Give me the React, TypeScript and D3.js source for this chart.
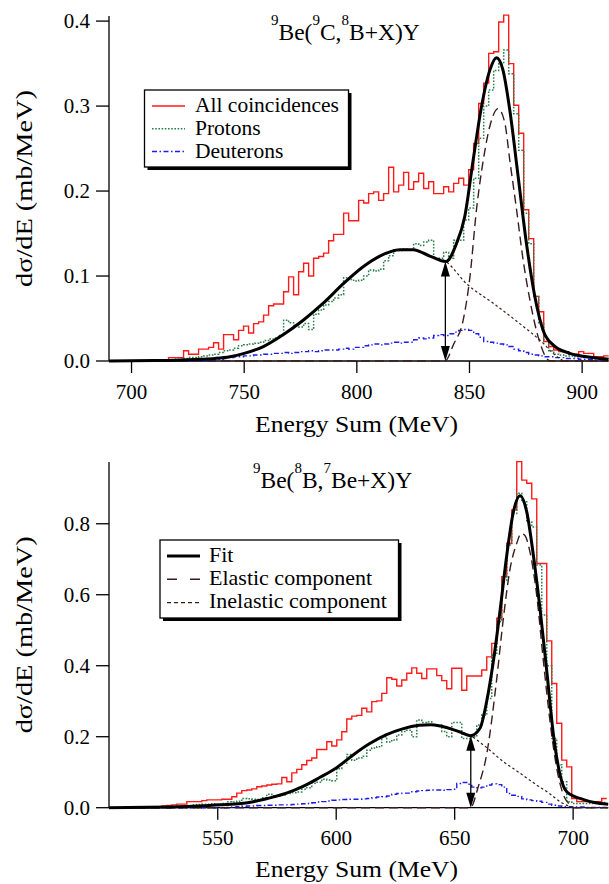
import React from 'react';
import * as d3 from 'd3';

// ---------- Top panel: 9Be(9C,8B+X)Y ----------
const topBinStart = 712;
const topBinWidth = 2.22;
const topAll = [
  0.001, 0.001, 0.004, 0.004, 0.004, 0.012, 0.008, 0.008, 0.014, 0.014,
  0.016, 0.0215, 0.014, 0.031, 0.031, 0.025, 0.036, 0.041, 0.033, 0.044,
  0.046, 0.054, 0.065, 0.067, 0.067, 0.0815, 0.099, 0.078, 0.105, 0.115,
  0.1, 0.121, 0.123, 0.127, 0.1415, 0.149, 0.149, 0.174, 0.165, 0.165,
  0.189, 0.186, 0.197, 0.199, 0.189, 0.197, 0.228, 0.199, 0.207, 0.222,
  0.202, 0.211, 0.221, 0.203, 0.211, 0.197, 0.197, 0.205, 0.199, 0.209,
  0.215, 0.207, 0.225, 0.256, 0.303, 0.327, 0.362, 0.364, 0.399, 0.407,
  0.35, 0.301, 0.268, 0.178, 0.144, 0.076, 0.058, 0.023, 0.017, 0.013,
  0.011, 0.011, 0.008, 0.008, 0.011, 0.009, 0.009, 0.005, 0.005, 0.006,
];
const topProtons = [
  0, 0.001, 0.001, 0.002, 0.002, 0.003, 0.004, 0.004, 0.005, 0.006,
  0.007, 0.008, 0.01, 0.012, 0.013, 0.015, 0.018, 0.019, 0.02, 0.021,
  0.022, 0.024, 0.026, 0.027, 0.03, 0.048, 0.045, 0.042, 0.04, 0.044,
  0.037, 0.055, 0.06, 0.066, 0.07, 0.074, 0.078, 0.098, 0.096, 0.094,
  0.095, 0.1, 0.107, 0.106, 0.108, 0.118, 0.124, 0.131, 0.13, 0.132,
  0.131, 0.138, 0.136, 0.14, 0.142, 0.121, 0.121, 0.128, 0.121, 0.142,
  0.142, 0.166, 0.18, 0.215, 0.262, 0.3, 0.319, 0.342, 0.35, 0.366,
  0.338, 0.291, 0.248, 0.174, 0.138, 0.076, 0.045, 0.025, 0.012, 0.008,
  0.007, 0.006, 0.006, 0.005, 0.005, 0.004, 0.004, 0.004, 0.003, 0.003,
];
const topDeuterons = [
  0, 0, 0, 0, 0, 0, 0, 0, 0, 0,
  0, 0.001, 0.002, 0.003, 0.004, 0.005, 0.005, 0.006, 0.006, 0.007,
  0.007, 0.008, 0.008, 0.009, 0.009, 0.01, 0.009, 0.01, 0.011, 0.011,
  0.012, 0.011, 0.012, 0.013, 0.013, 0.013, 0.014, 0.015, 0.014, 0.016,
  0.016, 0.018, 0.019, 0.02, 0.019, 0.02, 0.021, 0.022, 0.021, 0.022,
  0.022, 0.025, 0.027, 0.026, 0.027, 0.03, 0.031, 0.03, 0.032, 0.034,
  0.036, 0.037, 0.036, 0.032, 0.028, 0.023, 0.022, 0.021, 0.02, 0.019,
  0.017, 0.014, 0.012, 0.01, 0.008, 0.007, 0.006, 0.005, 0.005, 0.004,
  0.004, 0.003, 0.003, 0.003, 0.002, 0.002, 0.002, 0.001, 0.001, 0.001,
];
const topFitE = [690, 710, 720, 730, 737, 743.7, 750, 758.5, 767.3, 776.2, 785.1, 794, 802.8, 810.2, 819.1, 825, 832.4, 839.5, 844.2, 847.9, 851.6, 855.3, 859, 862, 864.9, 867.9, 871.6, 875.3, 879, 882.7, 887.1, 894.5, 902, 911.7];
const topFitV = [0, 0.0005, 0.001, 0.002, 0.003, 0.005, 0.009, 0.017, 0.031, 0.048, 0.068, 0.091, 0.111, 0.1235, 0.131, 0.131, 0.1235, 0.117, 0.138, 0.17, 0.236, 0.299, 0.342, 0.357, 0.342, 0.295, 0.217, 0.138, 0.076, 0.036, 0.019, 0.009, 0.005, 0.002];
const topInelE = [690, 710, 720, 730, 737, 743.7, 750, 758.5, 767.3, 776.2, 785.1, 794, 802.8, 810.2, 819.1, 825, 832.4, 839.5, 848.7, 860.5, 872.3, 882.7, 887.1, 890, 892, 911.7];
const topInelV = [0, 0.0005, 0.001, 0.002, 0.003, 0.005, 0.009, 0.017, 0.031, 0.048, 0.068, 0.091, 0.111, 0.1235, 0.131, 0.131, 0.1235, 0.117, 0.091, 0.068, 0.044, 0.021, 0.009, 0.003, 0, 0];
const topElE = [690, 839.1, 843, 847.2, 850.2, 853.1, 856.1, 859, 862.7, 865.7, 867.9, 870.9, 873.8, 876.8, 879.7, 882.7, 884.2, 886, 911.7];
const topElV = [0, 0, 0.02, 0.048, 0.099, 0.178, 0.236, 0.276, 0.297, 0.28, 0.236, 0.178, 0.119, 0.072, 0.036, 0.011, 0.003, 0, 0];
const topArrow = [839.3, 0.117];
const topXTicks = [700, 750, 800, 850, 900];
const topYTicks = [0, 0.1, 0.2, 0.3, 0.4];
const topTitle = [['9', 'Be('], ['9', 'C,'], ['8', 'B+X)Y']];
const topLegend = ['All coincidences', 'Protons', 'Deuterons'];

// ---------- Bottom panel: 9Be(8B,7Be+X)Y ----------
const botBinStart = 524.28;
const botBinWidth = 2.11;
const botAll = [
  0.003, 0.005, 0.006, 0.008, 0.01, 0.01, 0.017, 0.017, 0.017, 0.02,
  0.022, 0.022, 0.022, 0.024, 0.024, 0.031, 0.041, 0.048, 0.05, 0.053,
  0.059, 0.061, 0.064, 0.066, 0.067, 0.085, 0.073, 0.098, 0.108, 0.121,
  0.133, 0.14, 0.164, 0.164, 0.186, 0.174, 0.191, 0.214, 0.25, 0.258,
  0.26, 0.28, 0.27, 0.299, 0.301, 0.322, 0.366, 0.362, 0.343, 0.36,
  0.379, 0.394, 0.379, 0.364, 0.391, 0.391, 0.372, 0.358, 0.335, 0.393,
  0.393, 0.331, 0.371, 0.371, 0.371, 0.388, 0.425, 0.463, 0.534, 0.651,
  0.745, 0.839, 0.975, 0.923, 0.914, 0.87, 0.688, 0.688, 0.47, 0.35,
  0.238, 0.134, 0.115, 0.026, 0.017, 0.017, 0.017, 0.017, 0.017, 0.026,
];
const botProtons = [
  0.001, 0.002, 0.002, 0.003, 0.004, 0.005, 0.006, 0.008, 0.009, 0.01,
  0.01, 0.011, 0.01, 0.012, 0.017, 0.016, 0.018, 0.026, 0.025, 0.024,
  0.023, 0.028, 0.038, 0.034, 0.033, 0.036, 0.04, 0.042, 0.044, 0.052,
  0.056, 0.069, 0.072, 0.08, 0.078, 0.076, 0.11, 0.125, 0.15, 0.134,
  0.14, 0.145, 0.162, 0.168, 0.172, 0.2, 0.185, 0.191, 0.205, 0.215,
  0.218, 0.2, 0.247, 0.24, 0.242, 0.233, 0.233, 0.215, 0.2, 0.24,
  0.24, 0.195, 0.195, 0.2, 0.233, 0.261, 0.308, 0.43, 0.524, 0.64,
  0.74, 0.829, 0.886, 0.862, 0.806, 0.791, 0.684, 0.543, 0.4, 0.195,
  0.121, 0.073, 0.017, 0.012, 0.012, 0.012, 0.012, 0.012, 0.012, 0.015,
];
const botDeuterons = [
  0, 0, 0, 0, 0, 0, 0, 0, 0, 0,
  0, 0, 0, 0, 0.001, 0.002, 0.003, 0.004, 0.005, 0.005,
  0.006, 0.006, 0.007, 0.007, 0.008, 0.008, 0.008, 0.009, 0.01, 0.011,
  0.012, 0.014, 0.016, 0.017, 0.019, 0.021, 0.022, 0.023, 0.024, 0.024,
  0.024, 0.025, 0.026, 0.028, 0.03, 0.031, 0.033, 0.038, 0.04, 0.041,
  0.041, 0.045, 0.047, 0.048, 0.049, 0.05, 0.05, 0.049, 0.051, 0.052,
  0.068, 0.071, 0.066, 0.058, 0.056, 0.058, 0.064, 0.067, 0.065, 0.058,
  0.04, 0.035, 0.032, 0.025, 0.022, 0.02, 0.018, 0.015, 0.01, 0.007,
  0.005, 0.003, 0.003, 0.002, 0.002, 0.002, 0.001, 0.001, 0.001, 0.001,
];
const botFitE = [504.1, 520, 530, 540, 551, 560, 565, 571, 579, 586, 593, 600, 607, 614, 621, 628, 635, 640, 644, 652, 656.6, 660.7, 663.5, 666.3, 669.1, 672, 674.8, 677.6, 680.4, 683.2, 686, 688.9, 691.7, 694.5, 697.3, 702.9, 711.4, 714.8];
const botFitV = [0, 0.001, 0.002, 0.004, 0.008, 0.012, 0.017, 0.026, 0.041, 0.06, 0.085, 0.112, 0.148, 0.18, 0.205, 0.222, 0.232, 0.234, 0.23, 0.214, 0.203, 0.224, 0.299, 0.411, 0.552, 0.712, 0.834, 0.879, 0.834, 0.712, 0.562, 0.383, 0.205, 0.092, 0.045, 0.026, 0.012, 0.01];
const botInelE = [504.1, 520, 530, 540, 551, 560, 565, 571, 579, 586, 593, 600, 607, 614, 621, 628, 635, 640, 644, 652, 656.6, 663, 670.5, 677, 684.6, 690, 694.5, 698, 700.5, 714.8];
const botInelV = [0, 0.001, 0.002, 0.004, 0.008, 0.012, 0.017, 0.026, 0.041, 0.06, 0.085, 0.112, 0.148, 0.18, 0.205, 0.222, 0.232, 0.234, 0.23, 0.214, 0.203, 0.172, 0.13, 0.1, 0.064, 0.04, 0.017, 0.005, 0, 0];
const botElE = [504.1, 656.6, 660, 663.5, 667.7, 670.5, 673.3, 676.2, 678, 679.5, 681.8, 684.6, 687.5, 690.3, 693.1, 695.9, 698.7, 700.5, 714.8];
const botElV = [0, 0, 0.06, 0.15, 0.36, 0.53, 0.67, 0.745, 0.772, 0.768, 0.72, 0.6, 0.41, 0.24, 0.11, 0.036, 0.008, 0, 0];
const botArrow = [656.8, 0.203];
const botXTicks = [550, 600, 650, 700];
const botYTicks = [0, 0.2, 0.4, 0.6, 0.8];
const botTitle = [['9', 'Be('], ['8', 'B,'], ['7', 'Be+X)Y']];
const botLegend = ['Fit', 'Elastic component', 'Inelastic component'];

const FONT = "'Liberation Serif', 'DejaVu Serif', serif";
const RED = '#ff1a1a';
const GREEN = '#2a7f4a';
const BLUE = '#1c1cf0';
const BROWN = '#3a1c1c';
const DASH_DOT = '5 2.5 1.5 2.5';
const DOTS = '1.6 1.6';
const EL_DASH = '9 5';
const INEL_DASH = '2.5 2.5';
const TXT = { fontFamily: FONT };

type Cfg = {
  x: d3.ScaleLinear<number, number>;
  y: d3.ScaleLinear<number, number>;
  binStart: number; binWidth: number;
  all: number[]; protons: number[]; deuterons: number[];
  fitE: number[]; fitV: number[]; inelE: number[]; inelV: number[]; elE: number[]; elV: number[];
  arrow: number[]; xTicks: number[]; yTicks: number[];
  title: string[][]; titleX: number; titleY: number;
  xLabelY: number; tickLabelY: number;
};

function histPath(vals: number[], start: number, w: number, x: any, y: any) {
  const pts: [number, number][] = [[x.domain()[0], 0], [start, 0]];
  vals.forEach((v, i) => pts.push([start + i * w, v]));
  pts.push([start + vals.length * w, vals[vals.length - 1]]);
  return d3.line<[number, number]>().x(d => x(d[0])).y(d => y(d[1])).curve(d3.curveStepAfter)(pts) || '';
}

function curvePath(E: number[], V: number[], x: any, y: any) {
  return d3.line<number>().x((_, i) => x(E[i])).y((_, i) => y(V[i])).curve(d3.curveMonotoneX)(E) || '';
}

function Panel({ c }: { c: Cfg }) {
  const { x, y } = c;
  const x0 = x.range()[0], x1 = x.range()[1];
  const y0 = y.range()[0], y1 = y.range()[1];
  const ax = x(c.arrow[0]);
  const ayTop = y(c.arrow[1]);
  const ayBot = y(0);
  const hw = 4.5, hh = 15;
  const clipId = 'clip' + Math.round(y0);
  return (
    <g>
      <defs>
        <clipPath id={clipId}>
          <rect x={x0} y={y1 - 30} width={x1 - x0 + 2} height={y0 - y1 + 32} />
        </clipPath>
      </defs>
      <line x1={x0} x2={x0} y1={y1} y2={y0} stroke="#000" strokeWidth={1.3} />
      <line x1={x0} x2={x1} y1={y0} y2={y0} stroke="#000" strokeWidth={1.3} />
      {c.yTicks.map(t => (
        <g key={'y' + t}>
          <line x1={x0 - 13} x2={x0} y1={y(t)} y2={y(t)} stroke="#000" strokeWidth={1.3} />
          <text x={x0 - 19} y={y(t)} dy="0.33em" textAnchor="end" fontSize={21} style={TXT}>{d3.format('.1f')(t)}</text>
        </g>
      ))}
      {c.xTicks.map(t => (
        <g key={'x' + t}>
          <line x1={x(t)} x2={x(t)} y1={y0} y2={y0 + 12} stroke="#000" strokeWidth={1.3} />
          <text x={x(t)} y={c.tickLabelY} textAnchor="middle" fontSize={21} style={TXT}>{t}</text>
        </g>
      ))}
      <text x={356.6} y={c.xLabelY} textAnchor="middle" fontSize={24} style={TXT} textLength={203} lengthAdjust="spacingAndGlyphs">Energy Sum (MeV)</text>
      <text transform={`translate(32, ${(y0 + y1) / 2}) rotate(-90)`} textAnchor="middle" fontSize={24} style={TXT} textLength={197} lengthAdjust="spacingAndGlyphs">dσ/dE (mb/MeV)</text>
      <text x={c.titleX} y={c.titleY} fontSize={23.5} style={TXT}>
        {c.title.map((p, i) => (
          <React.Fragment key={i}>
            <tspan fontSize={15} dy={-15}>{p[0]}</tspan>
            <tspan dy={15}>{p[1]}</tspan>
          </React.Fragment>
        ))}
      </text>
      <g clipPath={`url(#${clipId})`} fill="none">
        <path d={histPath(c.all, c.binStart, c.binWidth, x, y)} stroke={RED} strokeWidth={1.4} />
        <path d={histPath(c.protons, c.binStart, c.binWidth, x, y)} stroke={GREEN} strokeWidth={1.5} strokeDasharray={DOTS} />
        <path d={histPath(c.deuterons, c.binStart, c.binWidth, x, y)} stroke={BLUE} strokeWidth={1.4} strokeDasharray={DASH_DOT} />
        <path d={curvePath(c.inelE, c.inelV, x, y)} stroke={BROWN} strokeWidth={1.2} strokeDasharray={INEL_DASH} />
        <path d={curvePath(c.elE, c.elV, x, y)} stroke={BROWN} strokeWidth={1.4} strokeDasharray={EL_DASH} />
        <path d={curvePath(c.fitE, c.fitV, x, y)} stroke="#000" strokeWidth={3} />
      </g>
      <line x1={ax} x2={ax} y1={ayTop + 4} y2={ayBot - 4} stroke="#000" strokeWidth={1.3} />
      <path d={`M${ax},${ayTop} L${ax - hw},${ayTop + hh} L${ax + hw},${ayTop + hh} Z`} fill="#000" />
      <path d={`M${ax},${ayBot} L${ax - hw},${ayBot - hh} L${ax + hw},${ayBot - hh} Z`} fill="#000" />
    </g>
  );
}

function LegendBox({ x, y, w, h, children }: any) {
  return (
    <g>
      <rect x={x + 3} y={y + 3} width={w} height={h} fill="#000" />
      <rect x={x} y={y} width={w} height={h} fill="#fff" stroke="#000" strokeWidth={1.3} />
      {children}
    </g>
  );
}

export default function App() {
  const topX = d3.scaleLinear().domain([690, 911.7]).range([109, 608.5]);
  const topY = d3.scaleLinear().domain([0, 0.406]).range([361, 16]);
  const botX = d3.scaleLinear().domain([504.1, 714.8]).range([109, 608.2]);
  const botY = d3.scaleLinear().domain([0, 0.974]).range([807.7, 462]);

  const top: Cfg = {
    x: topX, y: topY, binStart: topBinStart, binWidth: topBinWidth,
    all: topAll, protons: topProtons, deuterons: topDeuterons,
    fitE: topFitE, fitV: topFitV, inelE: topInelE, inelV: topInelV, elE: topElE, elV: topElV,
    arrow: topArrow, xTicks: topXTicks, yTicks: topYTicks,
    title: topTitle, titleX: 271, titleY: 40, xLabelY: 432, tickLabelY: 399,
  };
  const bot: Cfg = {
    x: botX, y: botY, binStart: botBinStart, binWidth: botBinWidth,
    all: botAll, protons: botProtons, deuterons: botDeuterons,
    fitE: botFitE, fitV: botFitV, inelE: botInelE, inelV: botInelV, elE: botElE, elV: botElV,
    arrow: botArrow, xTicks: botXTicks, yTicks: botYTicks,
    title: botTitle, titleX: 253, titleY: 488, xLabelY: 877, tickLabelY: 845,
  };

  const topStyles = [
    { stroke: RED, dash: undefined, width: 1.5 },
    { stroke: GREEN, dash: DOTS, width: 1.6 },
    { stroke: BLUE, dash: DASH_DOT, width: 1.5 },
  ];
  const botStyles = [
    { stroke: '#000', dash: undefined, width: 3.2 },
    { stroke: BROWN, dash: '10 13', width: 1.5 },
    { stroke: BROWN, dash: '4 3', width: 1.3 },
  ];

  return (
    <svg width={609} height={884} style={{ position: 'absolute', left: 0, top: 0, background: '#fff' }}>
      <rect x={0} y={0} width={609} height={884} fill="#fff" />
      <Panel c={top} />
      <Panel c={bot} />
      <LegendBox x={144.5} y={90} w={204} h={77}>
        {topLegend.map((t, i) => (
          <g key={t}>
            <line x1={152} x2={185} y1={106 + i * 22.8} y2={106 + i * 22.8} stroke={topStyles[i].stroke} strokeWidth={topStyles[i].width} strokeDasharray={topStyles[i].dash} />
            <text x={195} y={112 + i * 22.8} fontSize={21.5} style={TXT}>{t}</text>
          </g>
        ))}
      </LegendBox>
      <LegendBox x={160} y={540} w={238.5} h={78}>
        {botLegend.map((t, i) => (
          <g key={t}>
            <line x1={167} x2={200} y1={556 + i * 23.3} y2={556 + i * 23.3} stroke={botStyles[i].stroke} strokeWidth={botStyles[i].width} strokeDasharray={botStyles[i].dash} />
            <text x={209} y={562 + i * 23} fontSize={22} style={TXT}>{t}</text>
          </g>
        ))}
      </LegendBox>
    </svg>
  );
}
